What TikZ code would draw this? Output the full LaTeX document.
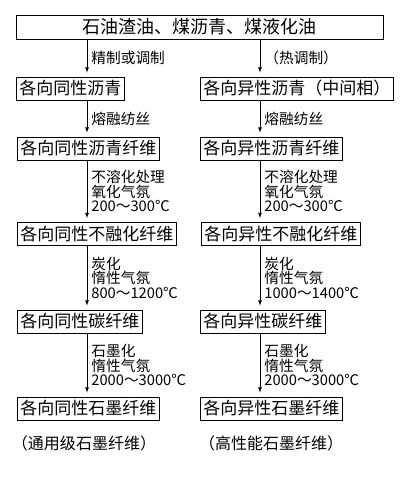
\documentclass[tikz,border=0pt]{standalone}
\usepackage{fontspec}
\setmainfont{Noto Sans CJK SC}
\tikzset{fiberbox/.style={draw,line width=0.8pt,inner xsep=3pt,inner ysep=2pt,minimum height=23pt,font=\fontsize{17}{20}\selectfont,anchor=west},
  proclabel/.style={right,xshift=3pt,align=left,inner sep=1pt,font=\fontsize{14.7}{14.5}\selectfont},
  flow/.style={-latex,line width=0.8pt,shorten >=4pt}}

\begin{document}
\begin{tikzpicture}[x=1pt,y=-1pt]
        \useasboundingbox (0,0) rectangle (402,484);
        \coordinate (lx) at (87,0);
        \coordinate (rx) at (260,0);
        \node[fiberbox,anchor=center,minimum width=367pt,minimum height=24pt,font=\fontsize{18}{20}\selectfont] (raw) at (199.5,27) {石油渣油、煤沥青、煤液化油};
        \node[fiberbox] (isoPitch) at (16,88.5) {各向同性沥青};
        \node[fiberbox] (isoFiber) at (17,148.5) {各向同性沥青纤维};
        \node[fiberbox] (isoStab) at (17,234) {各向同性不融化纤维};
        \node[fiberbox] (isoCarbon) at (17,321.5) {各向同性碳纤维};
        \node[fiberbox] (isoGraph) at (17,408.5) {各向同性石墨纤维};
        \node[fiberbox] (mesoPitch) at (200,88.5) {各向异性沥青（中间相）};
        \node[fiberbox] (mesoFiber) at (200,148.5) {各向异性沥青纤维};
        \node[fiberbox] (mesoStab) at (201,234) {各向异性不融化纤维};
        \node[fiberbox] (mesoCarbon) at (200,321.5) {各向异性碳纤维};
        \node[fiberbox] (mesoGraph) at (200,408.5) {各向异性石墨纤维};
        \node[font=\fontsize{16}{18}\selectfont] (isoUse) at (84,443) {（通用级石墨纤维）};
        \node[font=\fontsize{16}{18}\selectfont] (mesoUse) at (271,443) {（高性能石墨纤维）};
        % isotropic route
        \draw[flow] (raw.south -| lx) -- node[proclabel]{精制或调制} (isoPitch.north -| lx);
        \draw[flow] (isoPitch.south -| lx) -- node[proclabel]{熔融纺丝} (isoFiber.north -| lx);
        \draw[flow] (isoFiber.south -| lx) -- node[proclabel]{不溶化处理\\氧化气氛\\200～300℃} (isoStab.north -| lx);
        \draw[flow] (isoStab.south -| lx) -- node[proclabel]{炭化\\惰性气氛\\800～1200℃} (isoCarbon.north -| lx);
        \draw[flow] (isoCarbon.south -| lx) -- node[proclabel]{石墨化\\惰性气氛\\2000～3000℃} (isoGraph.north -| lx);
        % mesophase route
        \draw[flow] (raw.south -| rx) -- node[proclabel]{（热调制）} (mesoPitch.north -| rx);
        \draw[flow] (mesoPitch.south -| rx) -- node[proclabel]{熔融纺丝} (mesoFiber.north -| rx);
        \draw[flow] (mesoFiber.south -| rx) -- node[proclabel]{不溶化处理\\氧化气氛\\200～300℃} (mesoStab.north -| rx);
        \draw[flow] (mesoStab.south -| rx) -- node[proclabel]{炭化\\惰性气氛\\1000～1400℃} (mesoCarbon.north -| rx);
        \draw[flow] (mesoCarbon.south -| rx) -- node[proclabel]{石墨化\\惰性气氛\\2000～3000℃} (mesoGraph.north -| rx);
\end{tikzpicture}
\end{document}
